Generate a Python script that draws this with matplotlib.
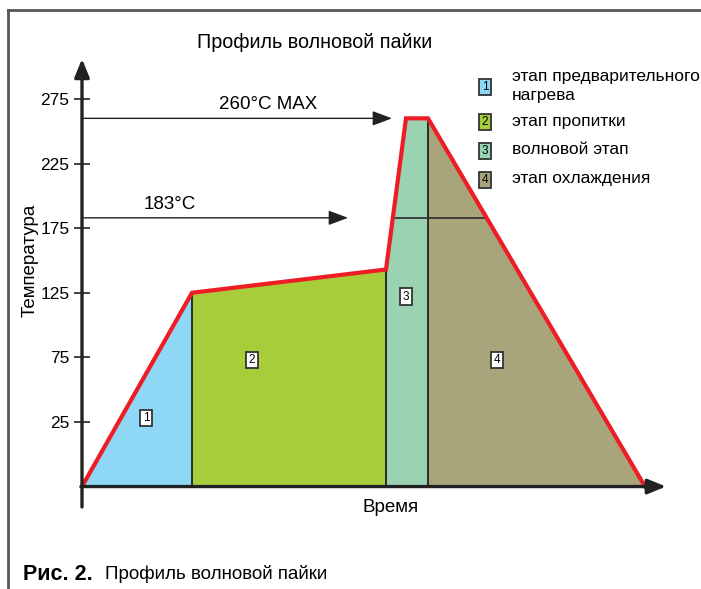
import matplotlib.pyplot as plt
import numpy as np
from matplotlib.lines import Line2D

# Profile of wave soldering (time in arbitrary units, temperature in chart units)
profile_time = [0, 110, 304, 324, 346, 563]
profile_temp = [-25, 125, 143, 260, 260, -25]
stage_slices = [(0, 2), (1, 3), (2, 5), (4, 6)]  # index ranges of profile per stage
stage_colors = ["#8ED8F6", "#A7CD3A", "#9AD3B1", "#A9A57B"]
stage_names = ["этап предварительного\nнагрева", "этап пропитки", "волновой этап", "этап охлаждения"]
stage_box_pos = [(64, 28), (170, 73), (324, 122), (415, 73)]

yticks = [25, 75, 125, 175, 225, 275]
peak_level = 260
liquidus_level = 183
base = -25

plt.rcParams['font.family'] = ['Liberation Sans', 'DejaVu Sans']

fig = plt.figure(figsize=(7.01, 5.89), dpi=100)
ax = fig.add_axes([0, 0, 1, 1])
ax.set_xlim(-82, 619)
ax.set_ylim(-104.3, 351.6)
ax.patch.set_alpha(0)

# stage fills
for (i0, i1), c in zip(stage_slices, stage_colors):
    ax.fill_between(profile_time[i0:i1], profile_temp[i0:i1], base, color=c, lw=0, zorder=1)

# stage dividers
for i in (1, 2, 4):
    ax.plot([profile_time[i]] * 2, [base, profile_temp[i]], color="#2b2b2b", lw=1.4, zorder=2)

# 183 line inside the peak
x_left = np.interp(liquidus_level, profile_temp[2:4], profile_time[2:4])
x_right = np.interp(liquidus_level, profile_temp[:3:-1], profile_time[:3:-1])
ax.plot([x_left, x_right], [liquidus_level] * 2, color="#2b2b2b", lw=1.2, zorder=2)

# profile line
ax.plot(profile_time, profile_temp, color="#EE1D25", lw=3, zorder=4, solid_joinstyle='miter')

# reference arrows
arrow_kw = dict(arrowstyle='-|>,head_length=1.2,head_width=0.45', color="#222222", lw=1, shrinkA=0, shrinkB=0)
ax.annotate("", xy=(310, peak_level), xytext=(0, peak_level), arrowprops=arrow_kw, zorder=3)
ax.annotate("", xy=(266, liquidus_level), xytext=(0, liquidus_level), arrowprops=arrow_kw, zorder=3)
ax.text(186, peak_level + 4, "260°C MAX", fontsize=13.5, ha='center', va='bottom')
ax.text(88, liquidus_level + 4, "183°C", fontsize=13.5, ha='center', va='bottom')

# axes with arrows
axis_kw = dict(arrowstyle='-|>,head_length=1.1,head_width=0.45', color="#222222", lw=2.4, shrinkA=0, shrinkB=0)
ax.annotate("", xy=(584, base), xytext=(-1, base), arrowprops=axis_kw, zorder=5)
ax.annotate("", xy=(0, 306), xytext=(0, -40.8), arrowprops=axis_kw, zorder=5)

for s in ax.spines.values():
    s.set_visible(False)
ax.spines['left'].set_position(('data', 0))
ax.set_xticks([])
ax.set_yticks(yticks)
ax.tick_params(axis='y', direction='inout', length=12, width=1.2, color="#222222",
               labelsize=12.5, pad=3)

# numbered boxes
for k, (bx, by) in enumerate(stage_box_pos):
    ax.text(bx, by, str(k + 1), fontsize=8.5, ha='center', va='center', zorder=6,
            bbox=dict(boxstyle='square,pad=0.2', fc='white', ec='#333333', lw=1.3))

# legend
leg_y = [87, 122, 151, 180]
for k, (name, c) in enumerate(zip(stage_names, stage_colors)):
    fig.text(485 / 701, 1 - leg_y[k] / 589, str(k + 1), fontsize=8.5, ha='center', va='center',
             bbox=dict(boxstyle='square,pad=0.2', fc=c, ec='#333333', lw=1.3))
    fig.text(512 / 701, 1 - (leg_y[k] - 1) / 589, name, fontsize=12.5, ha='left', va='center',
             linespacing=1.35)

# labels and titles
fig.text(315 / 701, 1 - 42 / 589, "Профиль волновой пайки", fontsize=14.2, ha='center', va='center')
fig.text(391 / 701, 1 - 507 / 589, "Время", fontsize=13.5, ha='center', va='center')
fig.text(30 / 701, 1 - 260 / 589, "Температура", fontsize=13.5, ha='center', va='center', rotation=90)

fig.text(23 / 701, 1 - 574 / 589, "Рис. 2.", fontsize=15.5, fontweight='bold',
         ha='left', va='center')
fig.text(105 / 701, 1 - 574 / 589, "Профиль волновой пайки", fontsize=13.5,
         ha='left', va='center')

# page frame
fig.add_artist(Line2D([8 / 701, 8 / 701], [0, 1 - 10 / 589], color="#555555", lw=2))
fig.add_artist(Line2D([8 / 701, 1], [1 - 10 / 589, 1 - 10 / 589], color="#555555", lw=2))

fig.savefig("out.png", dpi=100)
